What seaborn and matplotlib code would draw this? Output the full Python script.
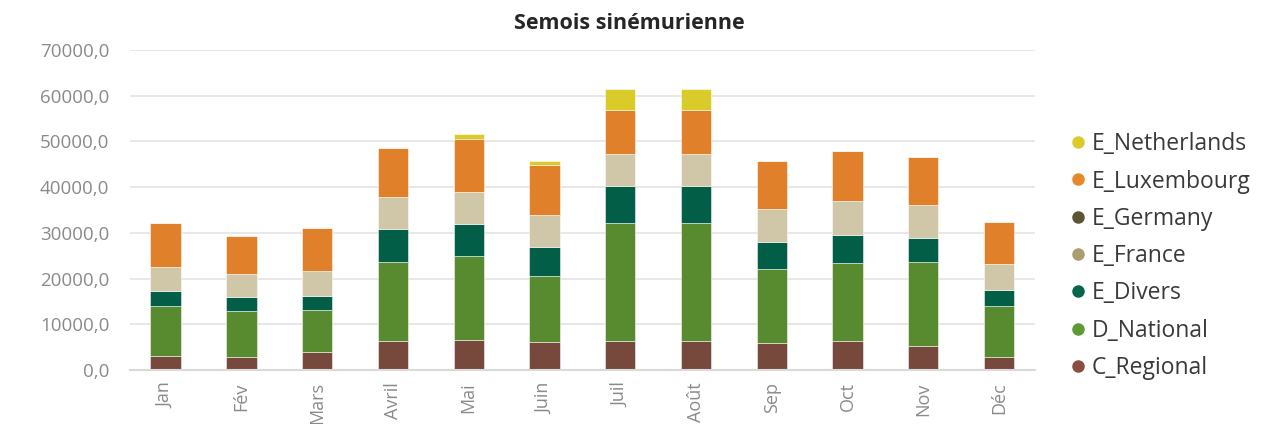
import numpy as np
import pandas as pd
import matplotlib
matplotlib.use("Agg")
import matplotlib.pyplot as plt
from matplotlib.lines import Line2D
from matplotlib.ticker import FuncFormatter
import seaborn as sns

# monthly values
months = ['Jan', 'Fév', 'Mars', 'Avril', 'Mai', 'Juin', 'Juil', 'Août', 'Sep', 'Oct', 'Nov', 'Déc']
c_regional = [3000, 2800, 4000, 6300, 6500, 6100, 6300, 6300, 6000, 6400, 5300, 2900]
d_national = [11000, 10100, 9100, 17300, 18400, 14400, 25800, 25800, 16100, 17000, 18300, 11200]
e_divers = [3300, 3100, 3100, 7300, 7000, 6300, 8100, 8100, 5900, 6100, 5300, 3500]
e_france = [5300, 5000, 5400, 6900, 7000, 7100, 7100, 7100, 7200, 7500, 7200, 5500]
e_germany = [0, 0, 0, 0, 0, 0, 0, 0, 0, 0, 0, 0]
e_luxembourg = [9500, 8300, 9500, 10800, 11600, 10900, 9600, 9600, 10500, 11000, 10600, 9300]
e_netherlands = [0, 0, 0, 0, 1100, 900, 4600, 4600, 0, 0, 0, 0]

series = [
    ('C_Regional', c_regional, '#77483C', '#8A4E40'),
    ('D_National', d_national, '#588B30', '#5E9B35'),
    ('E_Divers', e_divers, '#025E46', '#07664C'),
    ('E_France', e_france, '#CFC7A7', '#A89E6E'),
    ('E_Germany', e_germany, '#5C5535', '#5C5535'),
    ('E_Luxembourg', e_luxembourg, '#E0802A', '#E8872A'),
    ('E_Netherlands', e_netherlands, '#D9CB2A', '#D9CB2A'),
]

sns.set_style('white')
plt.rcParams['font.family'] = ['Open Sans', 'DejaVu Sans']

fig = plt.figure(figsize=(12.65, 4.24), dpi=100)
ax = fig.add_axes([0.1028, 0.1274, 0.715, 0.7546])

bottom = np.zeros(len(months))
for name, vals, col, _ in series:
    df = pd.DataFrame({'month': months, 'value': vals})
    sns.barplot(data=df, x='month', y='value', bottom=bottom, color=col,
                width=0.4, edgecolor=(1, 1, 1, 0.6), linewidth=0.6,
                saturation=1, ax=ax)
    bottom = bottom + np.array(vals)

ax.set_ylim(0, 70000)
ax.set_xlim(-0.47, 11.47)
ax.set_yticks(range(0, 70001, 10000))
ax.yaxis.set_major_formatter(FuncFormatter(lambda v, p: f'{v:.1f}'.replace('.', ',')))
ax.grid(axis='y', color='#E4E4E4', linewidth=1.2)
ax.set_axisbelow(True)
for s in ['top', 'right', 'left']:
    ax.spines[s].set_visible(False)
ax.spines['bottom'].set_color('#DADADA')
ax.spines['bottom'].set_linewidth(1.5)
ax.tick_params(axis='both', length=0, colors='#8A8A8A')
ax.tick_params(axis='y', pad=15, labelsize=13.5)
ax.tick_params(axis='x', pad=9, labelsize=13)
plt.setp(ax.get_xticklabels(), rotation=90)
ax.set_xlabel('')
ax.set_ylabel('')

fig.text(0.4975, 0.945, 'Semois sinémurienne', ha='center', va='center',
         fontsize=15.5, fontweight='bold', color='#262626')

handles = [Line2D([], [], marker='o', linestyle='', markersize=8,
                  markerfacecolor=lc, markeredgecolor=lc, label=name)
           for name, _, _, lc in reversed(series)]
fig.legend(handles=handles, loc='center left', bbox_to_anchor=(0.834, 0.396),
           frameon=False, fontsize=16.5, handletextpad=0.0, labelspacing=0.58,
           handlelength=1.2, labelcolor='#3A3A3A', borderaxespad=0)

fig.savefig('out.png', dpi=100)
